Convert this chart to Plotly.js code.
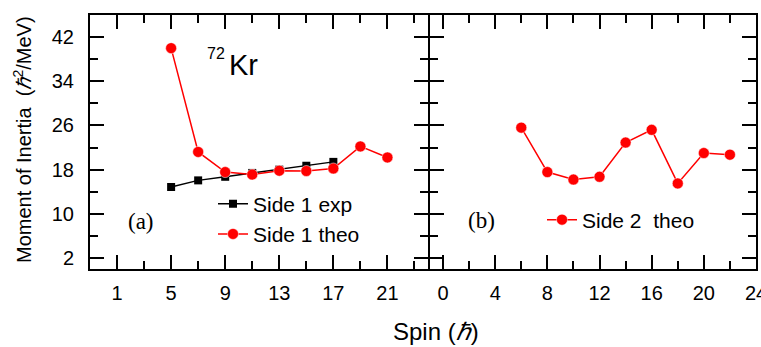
<!DOCTYPE html>
<html>
<head>
<meta charset="utf-8">
<script src="https://cdn.plot.ly/plotly-3.0.1.min.js"></script>
<style>html,body{margin:0;padding:0;background:#fff;}#chart{width:761px;height:347px;}</style>
</head>
<body>
<div id="chart"></div>
<script>
// ---- data ----
const spin1Exp = [5, 7, 9, 11, 13, 15, 17];
const moi1Exp = [14.85, 16.05, 16.7, 17.4, 18.0, 18.7, 19.4];
const spin1Theo = [5, 7, 9, 11, 13, 15, 17, 19, 21];
const moi1Theo = [40.0, 21.2, 17.55, 17.1, 17.8, 17.75, 18.2, 22.2, 20.2];
const spin2Theo = [6, 8, 10, 12, 14, 16, 18, 20, 22];
const moi2Theo = [25.6, 17.55, 16.2, 16.7, 22.9, 25.2, 15.5, 21.0, 20.7];
const seriesNames = ['Side 1 exp', 'Side 1 theo', 'Side 2  theo'];

// ---- layout helpers (pixel -> paper) ----
const W = 761, H = 347, L = 90, R = 5, T = 15, B = 78;
const PW = W - L - R, PH = H - T - B;
const px = x => (x - L) / PW;
const py = y => (H - B - y) / PH;
const split = px(428);
const split2 = px(430);

const FONT = 'Liberation Sans, Arial, sans-serif';

const traces = [
  {x: spin1Exp, y: moi1Exp, name: seriesNames[0], xaxis: 'x', yaxis: 'y', legend: 'legend',
   mode: 'lines+markers', line: {color: '#000000', width: 1.5},
   marker: {symbol: 'square', size: 8, color: '#000000'}},
  {x: spin1Theo, y: moi1Theo, name: seriesNames[1], xaxis: 'x', yaxis: 'y', legend: 'legend',
   mode: 'lines+markers', line: {color: '#ff0000', width: 1.5},
   marker: {symbol: 'circle', size: 11, color: '#ff0000', line: {color: '#ffffff', width: 0.5}}},
  {x: spin2Theo, y: moi2Theo, name: seriesNames[2], xaxis: 'x2', yaxis: 'y2', legend: 'legend2',
   mode: 'lines+markers', line: {color: '#ff0000', width: 1.5},
   marker: {symbol: 'circle', size: 11, color: '#ff0000', line: {color: '#ffffff', width: 0.5}}}
];

const axCommon = {
  showline: true, linewidth: 2, linecolor: '#000', mirror: 'ticks',
  ticks: 'inside', ticklen: 14, tickwidth: 2, tickcolor: '#000',
  showgrid: false, zeroline: false,
  tickfont: {family: FONT, size: 20, color: '#000'},
  ticklabeloverflow: 'allow'
};
const minorX = t0 => ({ticks: 'inside', ticklen: 8, tickwidth: 2, tickcolor: '#000', tick0: t0, dtick: 2});
const minorY = {ticks: 'inside', ticklen: 8, tickwidth: 2, tickcolor: '#000', tick0: 2, dtick: 4};

const layout = {
  width: W, height: H,
  margin: {l: L, r: R, t: T, b: B},
  paper_bgcolor: '#fff', plot_bgcolor: '#fff',
  font: {family: FONT, color: '#000'},
  xaxis: Object.assign({}, axCommon, {domain: [0, split], range: [-1, 24], tick0: 1, dtick: 4,
    anchor: 'y', ticklabelstandoff: 5, minor: minorX(1)}),
  xaxis2: Object.assign({}, axCommon, {domain: [split2, 1], range: [-1, 24], tick0: 0, dtick: 4,
    anchor: 'y2', ticklabelstandoff: 5, minor: minorX(0)}),
  yaxis: Object.assign({}, axCommon, {range: [0, 46], tick0: 2, dtick: 8, anchor: 'x',
    ticklabelstandoff: 10, minor: minorY}),
  yaxis2: Object.assign({}, axCommon, {range: [0, 46], tick0: 2, dtick: 8, anchor: 'x2',
    showticklabels: false, minor: minorY}),
  showlegend: true,
  legend: {x: px(213), y: py(219), xanchor: 'left', yanchor: 'middle', bgcolor: 'rgba(0,0,0,0)',
    font: {family: FONT, size: 21, color: '#000'}, tracegroupgap: 0, borderwidth: 0},
  legend2: {x: px(542), y: py(220), xanchor: 'left', yanchor: 'middle', bgcolor: 'rgba(0,0,0,0)',
    font: {family: FONT, size: 21, color: '#000'}, borderwidth: 0},
  annotations: [
    {text: '72', x: px(216), y: py(54)},
    {text: 'Kr', x: px(243), y: py(65), size: 29},
    {text: '(a)', x: px(141), y: py(221), serif: true},
    {text: '(b)', x: px(481), y: py(220), serif: true},
    {text: 'Moment of Inertia  (<i>ℏ</i><sup>2</sup>/MeV)', x: px(22), y: py(140), size: 20, angle: -90},
    {text: 'Spin (<i>ℏ</i>)', x: px(436), y: py(331), size: 24}
  ].map(a => ({
    text: a.text, x: a.x, y: a.y, xref: 'paper', yref: 'paper', xanchor: 'center', yanchor: 'middle',
    showarrow: false, textangle: a.angle || 0,
    font: {family: a.serif ? 'Liberation Serif, Times New Roman, serif' : FONT,
           size: a.serif ? 23 : (a.size || 16), color: '#000'}
  }))
};

Plotly.newPlot('chart', traces, layout, {displayModeBar: false, staticPlot: true});
</script>
</body>
</html>
